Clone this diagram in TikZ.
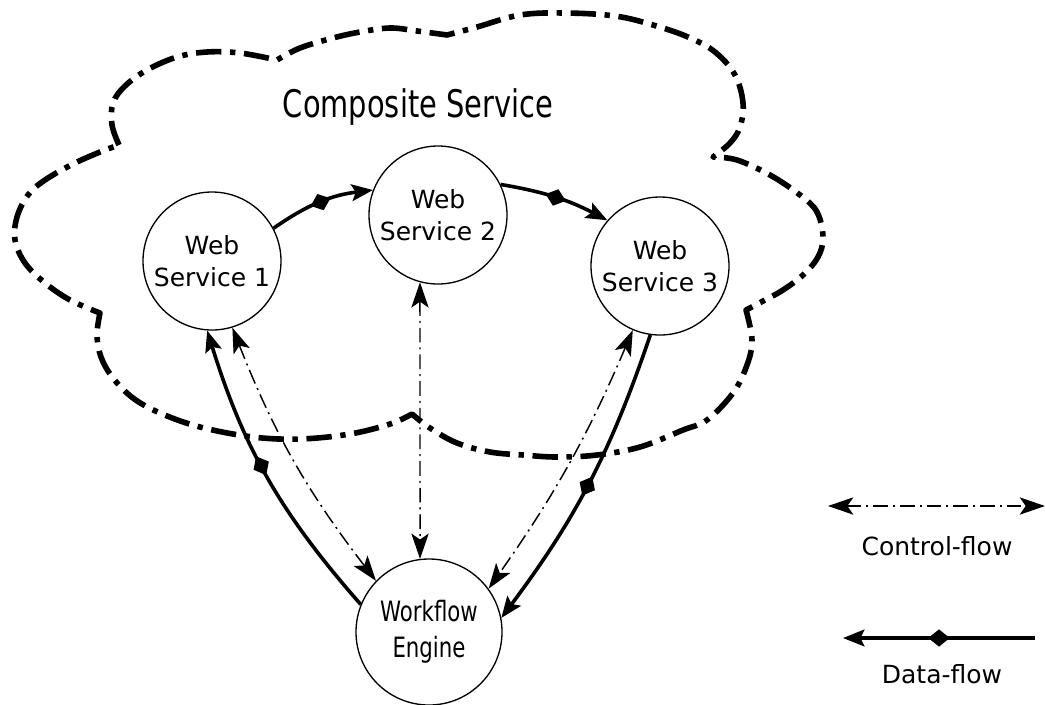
\documentclass[tikz,border=0pt]{standalone}
\usepackage{fontspec}
\setmainfont{DejaVu Sans}
\newfontfamily\condfont[FakeStretch=0.76]{DejaVu Sans}
\usetikzlibrary{arrows.meta,decorations.markings}

\begin{document}
\begin{tikzpicture}[x=0.75pt,y=-0.75pt,
  svc/.style={circle,draw,fill=white,line width=1pt,minimum size=103.5pt,inner sep=0pt,
    align=center,font=\fontsize{18.75pt}{24pt}\selectfont},
  engine/.style={circle,draw,fill=white,line width=1pt,minimum size=109.5pt,inner sep=0pt,
    align=center,font=\condfont\fontsize{21pt}{27pt}\selectfont},
  cloudline/.style={line width=4.2pt,line join=round,
    dash pattern=on 19pt off 6.5pt on 4pt off 6.5pt},
  dataflow/.style={line width=2.7pt,-{Stealth[length=16pt,width=12.5pt,inset=3pt]}},
  diamondmark/.style={postaction={decorate},
    decoration={markings,mark=at position #1 with {\arrow[xshift=8pt]{Diamond[length=16pt,width=13pt]}}}},
  ctrlflow/.style={line width=1.1pt,dash pattern=on 11pt off 3.75pt on 1.5pt off 3.75pt,
    {Stealth[length=19pt,width=13pt,inset=4.5pt]}-{Stealth[length=19pt,width=13pt,inset=4.5pt]}},
  legendtext/.style={anchor=base,font=\fontsize{18.75pt}{20pt}\selectfont},
]
\useasboundingbox (0,0) rectangle (1045,704);

% cloud outline of the composite service, one lobe per plot
\draw[cloudline]
  plot[smooth,tension=0.6] coordinates {(119,145) (112,125) (113,103) (125,86) (147,70) (177,57) (207,52) (240,53) (277,60)}
  -- plot[smooth,tension=0.6] coordinates {(277,60) (300,48) (333,38) (360,32) (390,28) (417,31) (447,35)}
  -- plot[smooth,tension=0.6] coordinates {(447,35) (477,27) (520,15) (565,13) (615,16) (653,25) (688,37) (715,52) (735,75) (743,103) (740,127) (730,143) (713,157)}
  -- plot[smooth,tension=0.6] coordinates {(713,157) (737,160) (770,175) (800,195) (817,212) (823,237) (818,257) (803,275) (783,290) (765,300) (746,310)}
  -- plot[smooth,tension=0.6] coordinates {(746,310) (752,340) (747,365) (733,393) (707,420) (683,430) (640,447) (597,455) (557,457) (523,455) (490,452) (457,443) (430,428) (412,414)}
  -- plot[smooth,tension=0.6] coordinates {(412,414) (390,424) (350,434) (300,439) (253,437) (200,427) (160,413) (133,398) (113,378) (101,357) (97,335) (100,313)}
  -- plot[smooth,tension=0.6] coordinates {(100,313) (70,300) (45,283) (25,263) (15,240) (17,217) (28,195) (45,180) (73,164) (100,152) (119,145)}
  -- cycle;

\node[anchor=base,font=\condfont\fontsize{28.5pt}{30pt}\selectfont] (title) at (418,117) {Composite Service};

% services and engine
\node[svc] (ws1) at (212,261) {Web\\Service 1};
\node[svc] (ws2) at (438,215) {Web\\Service 2};
\node[svc] (ws3) at (660,266) {Web\\Service 3};
\node[engine] (we) at (429,632) {Workflow\\Engine};

% data-flow between services
\draw[dataflow,diamondmark=0.5] (ws1.28) to[bend left=14] (ws2.159);
\draw[dataflow,diamondmark=0.5] (ws2.26) to[bend left=9] (ws3.139);
\draw[dataflow,diamondmark=0.54] (we.158) to[bend left=12] (ws1.266);
\draw[dataflow,diamondmark=0.51] (ws3.-98) to[bend left=9] (we.11);

% control-flow between engine and services
\draw[ctrlflow] (we.136.5) to[bend left=8] (ws1.-73);
\draw[ctrlflow] (ws2.-105) -- (we.97);
\draw[ctrlflow] (ws3.-113) to[bend left=6] (we.36);

% legend
\coordinate (cl) at (828,506);
\coordinate (cr) at (1045,506);
\draw[ctrlflow] (cl) -- (cr);
\node[legendtext] (ctrllabel) at (937,555) {Control-flow};

\coordinate (dl) at (843,638);
\coordinate (dr) at (1035,638);
\draw[dataflow,diamondmark=0.5,line width=2.8pt] (dr) -- (dl);
\node[legendtext] (datalabel) at (942,683) {Data-flow};
\end{tikzpicture}
\end{document}
